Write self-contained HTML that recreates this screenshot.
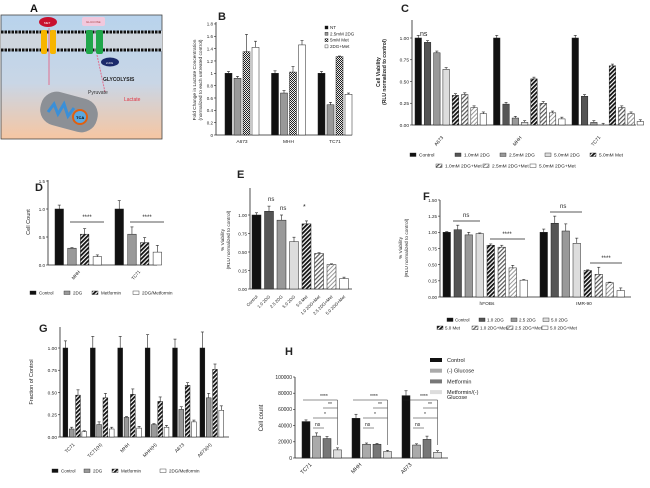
<!DOCTYPE html>
<html><head><meta charset="utf-8"><style>
body{margin:0;background:#fff;}
svg{display:block;font-family:"Liberation Sans",Arial,sans-serif;}
.t{font-size:5.5px;fill:#222}
.L{font-size:11px;font-weight:bold;fill:#111}
</style></head><body>
<svg id="fig" width="650" height="488" viewBox="0 0 650 488" xmlns="http://www.w3.org/2000/svg">
<defs>
<linearGradient id="bg" x1="0" y1="0" x2="0" y2="1"><stop offset="0" stop-color="#b8d3ec"/><stop offset="0.55" stop-color="#c9d6e6"/><stop offset="1" stop-color="#f6c6a2"/></linearGradient>
<pattern id="hd" width="3" height="3" patternUnits="userSpaceOnUse" patternTransform="rotate(45)"><rect width="3" height="3" fill="#fff"/><rect width="1.8" height="3" fill="#111"/></pattern>
<pattern id="hl" width="3" height="3" patternUnits="userSpaceOnUse" patternTransform="rotate(45)"><rect width="3" height="3" fill="#fff"/><rect width="1.2" height="3" fill="#555"/></pattern>
<pattern id="hg" width="3" height="3" patternUnits="userSpaceOnUse" patternTransform="rotate(45)"><rect width="3" height="3" fill="#fff"/><rect width="1" height="3" fill="#999"/></pattern>
<pattern id="ck" width="2" height="2" patternUnits="userSpaceOnUse"><rect width="2" height="2" fill="#eee"/><rect width="1" height="1" fill="#222"/><rect x="1" y="1" width="1" height="1" fill="#222"/></pattern>
<pattern id="dot" width="2" height="2" patternUnits="userSpaceOnUse"><rect width="2" height="2" fill="#bbb"/><rect width="1" height="1" fill="#777"/></pattern>
</defs>
<!-- Panel A -->
<g>
<text class="L" x="30" y="12">A</text>
<rect x="1" y="15" width="161" height="124" fill="url(#bg)" stroke="#444" stroke-width="0.8"/>
<rect x="1" y="31" width="161" height="20" fill="#cfd6de"/>
<line x1="1" y1="32" x2="162" y2="32" stroke="#111" stroke-width="3" stroke-dasharray="2.5 1"/>
<line x1="1" y1="50" x2="162" y2="50" stroke="#111" stroke-width="3" stroke-dasharray="2.5 1"/>
<rect x="41" y="30" width="6" height="24" rx="2" fill="#f7b500"/><rect x="50" y="30" width="6" height="24" rx="2" fill="#f7b500"/>
<rect x="86" y="30" width="7" height="24" rx="2" fill="#1fa64a"/><rect x="96" y="30" width="7" height="24" rx="2" fill="#1fa64a"/>
<ellipse cx="48" cy="22" rx="9" ry="5" fill="#c8102e"/><text x="44" y="24" font-size="3" fill="#fff">MET</text>
<rect x="82" y="17" width="23" height="9" rx="2" fill="#f1c8dd"/><text x="86" y="23" font-size="3" fill="#a44">GLUCOSE</text>
<line x1="49" y1="28" x2="49" y2="85" stroke="#e07090" stroke-width="1"/>
<line x1="97" y1="55" x2="105" y2="92" stroke="#e07090" stroke-width="1" stroke-dasharray="2 1"/>
<ellipse cx="110" cy="62" rx="9" ry="4.5" fill="#1b2a6b"/><text x="106" y="64" font-size="3" fill="#fff">2-DG</text>
<text x="103" y="81" font-size="5" font-weight="bold" fill="#222">GLYCOLYSIS</text>
<text x="88" y="94" font-size="5" fill="#333">Pyruvate</text>
<text x="124" y="101" font-size="5" fill="#e03040">Lactate</text>
<rect x="40" y="95" width="58" height="34" rx="16" fill="#8c9096" transform="rotate(15 69 112)"/>
<path d="M48 112 l6 -8 l4 10 l6 -10 l4 12 l6 -8" stroke="#3a8fd8" stroke-width="3" fill="none"/>
<circle cx="80" cy="117" r="7" fill="#5aa8e0" stroke="#e06010" stroke-width="2"/><text x="76" y="119" font-size="4" font-weight="bold">TCA</text>
</g>
<g id="charts"></g>
</svg>
<script>
// ---------- data ----------
const bCats=['A673','MHH','TC71'];
const bNT=[1,1,1], bNTe=[0.03,0.04,0.03];
const bDG=[0.92,0.68,0.49], bDGe=[0.03,0.04,0.04];
const bMet=[1.35,1.02,1.27], bMete=[0.28,0.09,0.01];
const bCombo=[1.42,1.46,0.66], bComboe=[0.1,0.07,0.02];
const bTicks=['0','0.2','0.4','0.6','0.8','1','1.2','1.4','1.6','1.8'];

const cCats=['A673','MHH','TC71'];
const cA673=[1,0.95,0.83,0.64,0.34,0.35,0.2,0.13];
const cMHH=[1,0.24,0.08,0.03,0.53,0.25,0.14,0.07];
const cTC71=[1,0.33,0.03,0,0.68,0.2,0.13,0.04];
const cTicks=['0.00','0.25','0.50','0.75','1.00'];
const cLegend=['Control','1.0mM 2DG','2.5mM 2DG','5.0mM 2DG','5.0mM Met','1.0mM 2DG+Met','2.5mM 2DG+Met','5.0mM 2DG+Met'];

const dCats=['MHH','TC71'];
const dControl=[1,1], dDG=[0.3,0.55], dMet=[0.55,0.4], dCombo=[0.15,0.23];
const dErr=[[0.07,0.15],[0.01,0.13],[0.1,0.09],[0.03,0.12]];
const dTicks=['0.0','0.5','1.0','1.5'];

const eCats=['Control','1.0 2DG','2.5 2DG','5.0 2DG','5.0 Met','1.0 2DG+Met','2.5 2DG+Met','5.0 2DG+Met'];
const eVals=[1,1.05,0.93,0.64,0.88,0.48,0.33,0.14];
const eErr=[0.03,0.07,0.07,0.06,0.04,0.01,0.01,0.02];
const eTicks=['0.00','0.25','0.50','0.75','1.00'];

const fCats=['hFOBs','IMR-90'];
const fHFOB=[1,1.04,0.96,0.98,0.8,0.77,0.45,0.26];
const fIMR=[1,1.14,1.02,0.83,0.41,0.35,0.22,0.1];
const fHFOBe=[0.01,0.07,0.04,0.01,0.02,0.03,0.04,0.01];
const fIMRe=[0.05,0.11,0.11,0.08,0.01,0.11,0.01,0.04];
const fTicks=['0.00','0.25','0.50','0.75','1.00','1.25','1.50'];
const fLegend=['Control','1.0 2DG','2.5 2DG','5.0 2DG','5.0 Met','1.0 2DG+Met','2.5 2DG+Met','5.0 2DG+Met'];

const gCats=['TC71','TC71(H)','MHH','MHH(H)','A673','A673(H)'];
const gControl=[1,1,1,1,1,1], gControlE=[0.08,0.13,0.13,0.15,0.1,0.18];
const gDG=[0.09,0.14,0.22,0.14,0.31,0.44], gDGE=[0.02,0.03,0.01,0.01,0.03,0.05];
const gMet=[0.47,0.44,0.48,0.4,0.58,0.76], gMetE=[0.06,0.05,0.06,0.05,0.03,0.06];
const gCombo=[0.06,0.09,0.1,0.11,0.17,0.3], gComboE=[0.01,0.02,0.02,0.02,0.02,0.05];
const gTicks=['0.00','0.25','0.50','0.75','1.00'];

const hCats=['TC71','MHH','A673'];
const hControl=[45000,49000,77000], hControlE=[2000,5000,6000];
const hGlu=[27000,17000,16000], hGluE=[4000,1500,1500];
const hMet=[24000,17000,23000], hMetE=[2500,1000,4000];
const hCombo=[10000,8000,7000], hComboE=[2500,1500,2000];
const hTicks=['0','20000','40000','60000','80000','100000'];

// ---------- helpers ----------
const NS='http://www.w3.org/2000/svg';
const root=document.getElementById('charts');
function mk(tag,attrs,name,parent){
  const el=document.createElementNS(NS,tag);
  for(const k in attrs) el.setAttribute(k,attrs[k]);
  
  
  (parent||root).appendChild(el);
  return el;
}
function txt(x,y,s,name,opts){
  opts=opts||{};
  const t=mk('text',{x:x,y:y,'font-size':opts.fs||5.5,fill:opts.fill||'#222','text-anchor':opts.anchor||'start','font-weight':opts.fw||'normal'},name);
  if(opts.rot!==undefined) t.setAttribute('transform','rotate('+opts.rot+' '+x+' '+y+')');
  t.textContent=s;return t;
}
function line(x1,y1,x2,y2,name,w,c){return mk('line',{x1:x1,y1:y1,x2:x2,y2:y2,stroke:c||'#222','stroke-width':w||0.8},name);}
function bar(x,w,ys,v,e,fill,name){
  const y0=ys(0),y1=ys(v);
  mk('rect',{x:x,y:Math.min(y0,y1),width:w,height:Math.abs(y0-y1),fill:fill,stroke:'#222','stroke-width':0.5},name);
  if(e){const ye=ys(v+e);line(x+w/2,y1,x+w/2,ye,name+'-error',0.6);line(x+w/2-1.5,ye,x+w/2+1.5,ye,name+'-error-cap',0.6);}
}
function yaxis(x,ys,ticks,top,name,fs){
  line(x,ys(0),x,top,name,0.8);
  ticks.forEach(t=>{const v=parseFloat(t);line(x-2,ys(v),x,ys(v),name+'-tick',0.6);txt(x-3,ys(v)+1.8,t,name+'-label',{anchor:'end',fs:fs||5});});
}
function sw(x,y,fill,name){mk('rect',{x:x,y:y,width:6,height:3.5,fill:fill,stroke:'#222','stroke-width':0.4},name);}

// ---------- Panel B ----------
txt(218,20,'B','panel-b-label',{fs:11,fw:'bold'});
const yB=v=>135-v*61.7;
yaxis(216,yB,bTicks,22,'panel-b-y-axis',4.5);
line(216,135,352,135,'panel-b-x-axis',0.8);
txt(196,80,'Fold Change in Lactate Concentration','panel-b-y-title',{anchor:'middle',rot:-90,fs:4.8});
txt(202,80,'(normalized to each untreated control)','panel-b-y-title-2',{anchor:'middle',rot:-90,fs:4.8});
const bSeries=[[bNT,bNTe,'#111'],[bDG,bDGe,'#999'],[bMet,bMete,'url(#ck)'],[bCombo,bComboe,'#fff']];
bCats.forEach((c,i)=>{const gx=225+i*46.5;
  bSeries.forEach((s,j)=>bar(gx+j*9,7,yB,s[0][i],s[1][i],s[2],'panel-b-bar-'+c+'-'+j));
  txt(gx+17,143,c,'panel-b-x-label',{anchor:'middle',fs:4.8});});
['NT','2.5mM 2DG','5mM Met','2DG+Met'].forEach((l,j)=>{const y=26+j*6.3;mk('rect',{x:325,y:y,width:3,height:3,fill:bSeries[j][2],stroke:'#222','stroke-width':0.4},'panel-b-legend-swatch');txt(330,y+3,l,'panel-b-legend-entry',{fs:4.5});});

// ---------- Panel C ----------
txt(401,12,'C','panel-c-label',{fs:11,fw:'bold'});
const yC=v=>125-v*87;
yaxis(412,yC,cTicks,20,'panel-c-y-axis',4.8);
line(412,125,636,125,'panel-c-x-axis',0.8);
txt(380,72,'Cell Viability','panel-c-y-title',{anchor:'middle',rot:-90,fs:5,fw:'bold'});
txt(386,72,'(RLU normalized to control)','panel-c-y-title-2',{anchor:'middle',rot:-90,fs:5,fw:'bold'});
const cFills=['#111','#555','#999','#ddd','url(#hd)','url(#hl)','url(#hg)','#fff'];
[cA673,cMHH,cTC71].forEach((arr,i)=>{const gx=415+i*78.5;
  arr.forEach((v,j)=>bar(gx+j*9.3,6.5,yC,v,j==0?0.03:0.02,cFills[j],'panel-c-bar-'+cCats[i]+'-'+j));
  txt(gx+25,142,cCats[i],'panel-c-x-label',{anchor:'middle',rot:-50,fs:4.8});});
txt(420,36,'ns','panel-c-ns',{fs:7});
cLegend.forEach((l,j)=>{const row=j<5?0:1;const k=row?j-5:j;const x=row?(436+k*47):(410+k*45);const y=row?164:153;
  sw(x,y,cFills[j],'panel-c-legend-swatch');txt(x+9,y+3.5,l,'panel-c-legend-entry',{fs:4.8});});

// ---------- Panel D ----------
txt(35,191,'D','panel-d-label',{fs:11,fw:'bold'});
const yD=v=>265-v*56;
yaxis(48,yD,dTicks,180,'panel-d-y-axis',4.5);
line(48,265,157,265,'panel-d-x-axis',0.8);
txt(30,222,'Cell Count','panel-d-y-title',{anchor:'middle',rot:-90,fs:5.5});
const dFills=['#111','#999','url(#hd)','#fff'];
const dSer=[dControl,dDG,dMet,dCombo];
dCats.forEach((c,i)=>{const gx=55+i*60;
  dSer.forEach((s,j)=>bar(gx+j*12.7,8.5,yD,s[i],dErr[j][i],dFills[j],'panel-d-bar-'+c+'-'+j));
  txt(gx+22,276,c,'panel-d-x-label',{anchor:'middle',rot:-50,fs:4.5});
  line(gx+15,222,gx+49,222,'panel-d-sig-line',0.7);txt(gx+32,219,'****','panel-d-sig-stars',{anchor:'middle',fs:6});});
['Control','2DG','Metformin','2DG/Metformin'].forEach((l,j)=>{const x=[30,64,92,133][j];sw(x,291,dFills[j],'panel-d-legend-swatch');txt(x+9,294.5,l,'panel-d-legend-entry',{fs:4.5});});

// ---------- Panel E ----------
txt(237,178,'E','panel-e-label',{fs:11,fw:'bold'});
const yE=v=>289-v*74;
yaxis(250,yE,eTicks,188,'panel-e-y-axis',4.5);
line(250,289,352,289,'panel-e-x-axis',0.8);
txt(224,240,'% Viability','panel-e-y-title',{anchor:'middle',rot:-90,fs:4.8});
txt(230,240,'(RLU normalized to control)','panel-e-y-title-2',{anchor:'middle',rot:-90,fs:4.8});
const eFills=['#111','#555','#999','#ddd','url(#hd)','url(#hl)','url(#hg)','#fff'];
eCats.forEach((c,i)=>{const x=252+i*12.5;
  bar(x,9,yE,eVals[i],eErr[i],eFills[i],'panel-e-bar-'+i);
  txt(x+6,297,c,'panel-e-x-label',{anchor:'end',rot:-45,fs:4.3});});
txt(268,201,'ns','panel-e-ns-1',{fs:6});txt(280,210,'ns','panel-e-ns-2',{fs:6});txt(303,209,'*','panel-e-sig',{fs:7});

// ---------- Panel F ----------
txt(423,200,'F','panel-f-label',{fs:11,fw:'bold'});
const yF=v=>297-v*64.7;
yaxis(440,yF,fTicks,200,'panel-f-y-axis',4.5);
line(440,297,631,297,'panel-f-x-axis',0.8);
txt(402,248,'% Viability','panel-f-y-title',{anchor:'middle',rot:-90,fs:4.8});
txt(408,248,'(RLU normalized to control)','panel-f-y-title-2',{anchor:'middle',rot:-90,fs:4.8});
const fFills=['#111','#555','#999','#ddd','url(#hd)','url(#hl)','url(#hg)','#fff'];
[[fHFOB,fHFOBe],[fIMR,fIMRe]].forEach((s,i)=>{const gx=443+i*97;
  s[0].forEach((v,j)=>bar(gx+j*11,7.5,yF,v,s[1][j],fFills[j],'panel-f-bar-'+fCats[i]+'-'+j));
  txt(gx+44,305,fCats[i],'panel-f-x-label',{anchor:'middle',fs:4.8});});
line(453,221,480,221,'panel-f-ns-line',0.7);txt(463,217,'ns','panel-f-ns',{fs:6});
line(550,212,582,212,'panel-f-ns-line',0.7);txt(560,208,'ns','panel-f-ns',{fs:6});
line(490,239,525,239,'panel-f-sig-line',0.7);txt(507,236,'****','panel-f-sig',{anchor:'middle',fs:6});
line(590,263,622,263,'panel-f-sig-line',0.7);txt(606,260,'****','panel-f-sig',{anchor:'middle',fs:6});
fLegend.forEach((l,j)=>{const row=j<4?0:1;const k=row?j-4:j;const x=row?(437+k*35):(447+k*32);const y=row?326:318;
  sw(x,y,fFills[j],'panel-f-legend-swatch');txt(x+8,y+3.5,l,'panel-f-legend-entry',{fs:4.5});});

// ---------- Panel G ----------
txt(39,332,'G','panel-g-label',{fs:11,fw:'bold'});
const yG=v=>437-v*89;
yaxis(60,yG,gTicks,327,'panel-g-y-axis',4.8);
line(60,437,229,437,'panel-g-x-axis',0.8);
txt(33,382,'Fraction of Control','panel-g-y-title',{anchor:'middle',rot:-90,fs:5.5});
const gSer=[[gControl,gControlE,'#111'],[gDG,gDGE,'#999'],[gMet,gMetE,'url(#hd)'],[gCombo,gComboE,'#fff']];
gCats.forEach((c,i)=>{const gx=63+i*27.4;
  gSer.forEach((s,j)=>bar(gx+j*6.3,4.8,yG,s[0][i],s[1][i],s[2],'panel-g-bar-'+c+'-'+j));
  txt(gx+12,445,c,'panel-g-x-label',{anchor:'end',rot:-45,fs:4.8});});
['Control','2DG','Metformin','2DG/Metformin'].forEach((l,j)=>{const x=[52,84,112,160][j];sw(x,469,gSer[j][2],'panel-g-legend-swatch');txt(x+9,472.5,l,'panel-g-legend-entry',{fs:4.5});});

// ---------- Panel H ----------
txt(285,355,'H','panel-h-label',{fs:11,fw:'bold'});
const yH=v=>458-v*0.00081;
yaxis(295,yH,hTicks,377,'panel-h-y-axis',5);
line(295,458,448,458,'panel-h-x-axis',0.8);
txt(263,418,'Cell count','panel-h-y-title',{anchor:'middle',rot:-90,fs:6});
const hSer=[[hControl,hControlE,'#111'],[hGlu,hGluE,'#aaa'],[hMet,hMetE,'#777'],[hCombo,hComboE,'#ddd']];
hCats.forEach((c,i)=>{const gx=302+i*50;
  hSer.forEach((s,j)=>bar(gx+j*10.5,8,yH,s[0][i],s[1][i],s[2],'panel-h-bar-'+c+'-'+j));
  txt(gx+10,465,c,'panel-h-x-label',{anchor:'end',rot:-45,fs:5.5});
  const x2=gx+35.5;
  line(gx+11,428,gx+22,428,'panel-h-bracket',0.5);txt(gx+13,426,'ns','panel-h-ns',{fs:5});
  line(gx+11,418,x2,418,'panel-h-bracket',0.5);txt(gx+22,416,'*','panel-h-sig',{fs:5});
  line(gx+21,408,x2,408,'panel-h-bracket',0.5);txt(gx+26,406,'**','panel-h-sig',{fs:5});
  line(gx+1,400,x2,400,'panel-h-bracket',0.5);line(x2,400,x2,445,'panel-h-bracket',0.5);txt(gx+18,398,'****','panel-h-sig',{fs:5});});
['Control','(-) Glucose','Metformin','Metformin/(-)'].forEach((l,j)=>{const y=358+j*10.7;mk('rect',{x:430,y:y,width:12,height:4,fill:hSer[j][2]},'panel-h-legend-swatch');txt(447,y+4,l,'panel-h-legend-entry',{fs:5.5});});
txt(447,399,'Glucose','panel-h-legend-entry',{fs:5.5});
</script>
</body></html>
